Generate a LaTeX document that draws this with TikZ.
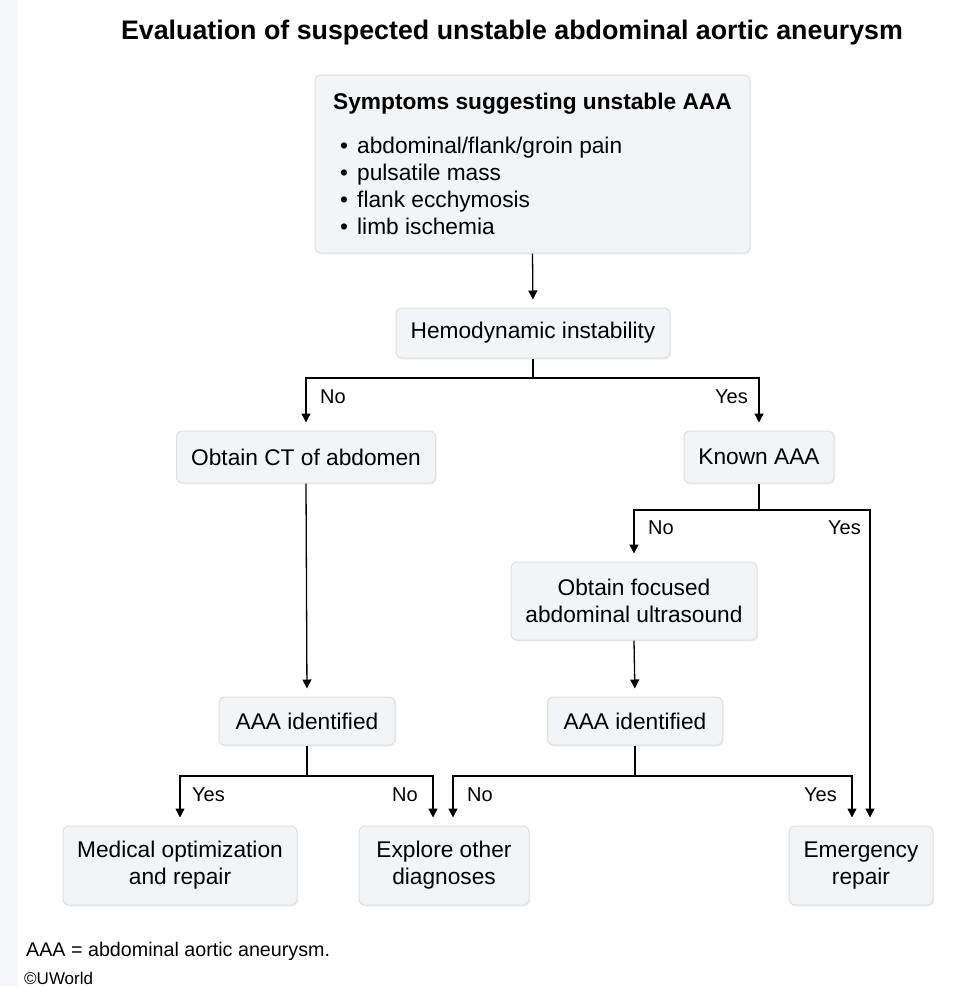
\documentclass[tikz,border=0pt]{standalone}
\usepackage{fontspec}
\setmainfont{Liberation Sans}
\usetikzlibrary{arrows.meta,shadows,calc}
\definecolor{boxfill}{HTML}{F3F4F6}
\definecolor{boxline}{HTML}{DCDFE3}
\definecolor{stripcol}{HTML}{F5F7F9}
\begin{document}
\begin{tikzpicture}[x=1pt,y=-1pt,
  box/.style={draw=boxline, line width=1pt, fill=boxfill, rounded corners=6pt,
    align=center, font=\fontsize{22.7}{27}\selectfont, inner sep=0pt,
    drop shadow={shadow xshift=1pt,shadow yshift=-1.5pt,fill=black!10}},
  arr/.style={-{Triangle[length=9pt,width=9pt]}, line width=1.3pt, shorten >=8pt},
  ln/.style={line width=1.3pt},
  lab/.style={font=\fontsize{20}{22}\selectfont, inner sep=0pt}]
\useasboundingbox (0,0) rectangle (975,986);
\fill[stripcol] (0,0) rectangle (18,986);

\node[font=\bfseries\fontsize{26.8}{30}\selectfont] (title) at (512,33) {Evaluation of suspected unstable abdominal aortic aneurysm};

\node[box, minimum width=435pt, minimum height=178pt, align=left] (sym) at (532.5,164)
  {\textbf{Symptoms suggesting unstable AAA}\\[17pt]
   \hspace{7pt}\makebox[17pt][l]{\textbullet}abdominal/flank/groin pain\\
   \hspace{7pt}\makebox[17pt][l]{\textbullet}pulsatile mass\\
   \hspace{7pt}\makebox[17pt][l]{\textbullet}flank ecchymosis\\
   \hspace{7pt}\makebox[17pt][l]{\textbullet}limb ischemia};

\node[box, minimum width=274pt, minimum height=50pt] (hemo) at (533,333) {Hemodynamic instability};
\node[box, minimum width=259pt, minimum height=52pt] (ct) at (306,457) {Obtain CT of abdomen};
\node[box, minimum width=150pt, minimum height=52pt] (known) at (759,457) {Known AAA};
\node[box, minimum width=246pt, minimum height=78pt] (us) at (634,601) {Obtain focused\\abdominal ultrasound};
\node[box, minimum width=176pt, minimum height=48pt] (aaa1) at (307,721) {AAA identified};
\node[box, minimum width=175pt, minimum height=48pt] (aaa2) at (635,721) {AAA identified};
\node[box, minimum width=234pt, minimum height=79pt] (med) at (180,865.5) {Medical optimization\\and repair};
\node[box, minimum width=170pt, minimum height=79pt] (exp) at (444,865.5) {Explore other\\diagnoses};
\node[box, minimum width=144pt, minimum height=79pt] (er) at (861,865.5) {Emergency\\repair};

% connectors
\draw[arr] (sym.south) -- (hemo.north);

\coordinate (hj) at (533,378);
\draw[ln] (hemo.south) -- (hj);
\draw[arr] (hj) -| (ct.north);
\draw[arr] (hj) -| (known.north);
\node[lab, anchor=west] at ($(hj -| ct.north)+(14,19)$) {No};
\node[lab, anchor=east] at ($(hj -| known.north)+(-11,19)$) {Yes};

\coordinate (kj) at (759,510);
\coordinate (kr) at (870,510);
\draw[ln] (known.south) -- (kj);
\draw[arr] (kj) -| (us.north);
\draw[arr] (kj) -- (kr) -- (kr |- er.north);
\node[lab, anchor=west] at ($(kj -| us.north)+(14,18)$) {No};
\node[lab, anchor=east] at ($(kr)+(-9,18)$) {Yes};

\draw[arr] (ct.south) -- (aaa1.north);
\draw[arr] (us.south) -- (aaa2.north);

\coordinate (aj1) at (307,776);
\coordinate (aj1r) at (433,776);
\draw[ln] (aaa1.south) -- (aj1);
\draw[arr] (aj1) -| (med.north);
\draw[arr] (aj1) -- (aj1r) -- (aj1r |- exp.north);
\node[lab, anchor=west] at ($(aj1 -| med.north)+(12,19)$) {Yes};
\node[lab, anchor=east] at ($(aj1r)+(-15,19)$) {No};

\coordinate (aj2) at (635,776);
\coordinate (aj2l) at (453,776);
\coordinate (aj2r) at (852,776);
\draw[ln] (aaa2.south) -- (aj2);
\draw[arr] (aj2) -- (aj2l) -- (aj2l |- exp.north);
\draw[arr] (aj2) -- (aj2r) -- (aj2r |- er.north);
\node[lab, anchor=west] at ($(aj2l)+(14,19)$) {No};
\node[lab, anchor=east] at ($(aj2r)+(-15,19)$) {Yes};

\node[anchor=west, inner sep=0pt, font=\fontsize{19.7}{22}\selectfont] (foot) at (26,951) {AAA = abdominal aortic aneurysm.};
\node[anchor=base west, inner sep=0pt, font=\fontsize{17}{20}\selectfont] (copy) at (24,984) {\textcopyright UWorld};
\end{tikzpicture}
\end{document}
